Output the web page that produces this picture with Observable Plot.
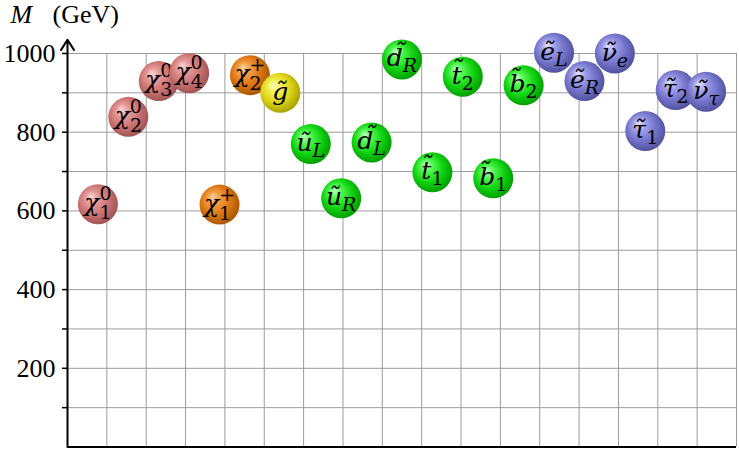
<!DOCTYPE html>
<html>
<head>
<meta charset="utf-8">
<script src="https://cdn.jsdelivr.net/npm/d3@7"></script>
<script src="https://cdn.jsdelivr.net/npm/@observablehq/plot@0.6"></script>
<style>
  html, body { margin: 0; padding: 0; background: #fff; }
  svg { display: block; }
</style>
</head>
<body>
<div id="chart"></div>
<script>
// ---- data ----
const symbols = ["χ","χ","χ","χ","χ","χ","g̃","ũ","ũ","d̃","d̃","t̃","t̃","b̃","b̃","ẽ","ẽ","ν̃","τ̃","τ̃","ν̃"];
const subs    = ["1","2","3","4","1","2","","L","R","L","R","1","2","1","2","L","R","e","1","2","τ"];
const sups    = ["0","0","0","0","+","+","","","","","","","","","","","","","","",""];
const masses  = [617, 839, 930, 950, 616, 945, 900, 770, 632, 774, 985, 698, 941, 683, 919, 1002, 930, 1000, 803, 907, 903];
const groups  = ["neutralino","neutralino","neutralino","neutralino","chargino","chargino","gluino",
                 "squark","squark","squark","squark","squark","squark","squark","squark",
                 "slepton","slepton","slepton","slepton","slepton","slepton"];
const groupNames  = ["neutralino","chargino","gluino","squark","slepton"];
const groupShades = [
  ["#f8d6d6","#e69a9a","#cc7474","#a05252","#6a3434"],
  ["#fcd2a4","#f29c44","#dc7612","#a85600","#703800"],
  ["#fdfdbc","#f3ef56","#ddd518","#a8a000","#6c6800"],
  ["#c4ffc4","#50f650","#12d412","#009c00","#005e00"],
  ["#e2e2fc","#a0a0ea","#7474cc","#50509c","#30306a"]
];
const yTicks  = [100,200,300,400,500,600,700,800,900,1000];
const yLabels = [200,400,600,800,1000];
const slots = 22;          // particle slots across the frame
const gridColumns = 17;    // vertical grid cells
const axisTop = 1035;      // end of the arrowed y axis
const yTitleItalic = "M";
const yTitleRest = "(GeV)";

const particles = symbols.map((s, k) => ({
  i: k + 1, sym: s, sub: subs[k], sup: sups[k], m: masses[k], group: groups[k]
}));
const gridX = d3.range(1, gridColumns + 1).map(k => k * slots / gridColumns);

const SERIF = "Liberation Serif";
const MATH = "DejaVu Serif";

function scripts(p) {
  return function(index, scales, values, dimensions, context, next) {
    const g = next(index, scales, values, dimensions, context);
    d3.select(g).selectAll("text").each(function() {
      const t = d3.select(this);
      const isDigit = /^[0-9+]$/.test(p.sub);
      if (p.sup) {
        t.append("tspan").attr("font-size", 19).attr("font-style", "normal")
          .attr("dy", -11).text(p.sup);
        t.append("tspan").attr("font-size", 19).attr("font-style", "normal")
          .attr("dx", p.sup === "+" ? -16 : -12).attr("dy", 19).text(p.sub);
      } else if (p.sub) {
        t.append("tspan").attr("font-size", 19)
          .attr("font-style", isDigit ? "normal" : "italic")
          .attr("dy", 6).text(p.sub);
      }
    });
    return g;
  };
}

const ballMarks = particles.flatMap(p => [
  Plot.dot([p], {x: "i", y: "m", r: 20, fill: `url(#ball-${p.group})`, stroke: "none"}),
  Plot.text([p], {
    x: "i", y: "m", text: "sym", fontSize: 25, fontStyle: "italic", fontFamily: MATH,
    fill: "black", textAnchor: "middle", lineAnchor: "middle", dy: -1,
    render: scripts(p)
  })
]);

const chart = Plot.plot({
  width: 739,
  height: 450,
  marginLeft: 67,
  marginRight: 3,
  marginTop: 53,
  marginBottom: 3.5,
  x: {domain: [0, slots], axis: null},
  y: {domain: [0, 1000], axis: null},
  marks: [
    Plot.gridY(yTicks, {stroke: "#9c9c9c", strokeOpacity: 1, strokeWidth: 1}),
    Plot.gridX(gridX, {stroke: "#9c9c9c", strokeOpacity: 1, strokeWidth: 1}),
    Plot.axisY(yTicks, {
      tickSize: 5, tickPadding: 7, fontSize: 26, fontFamily: SERIF, strokeWidth: 1.5,
      tickFormat: d => yLabels.includes(d) ? String(d) : "", label: null
    }),
    Plot.ruleY([0], {stroke: "black", strokeWidth: 2.2}),
    Plot.arrow([0], {x1: 0, y1: 0, x2: 0, y2: axisTop, stroke: "black", strokeWidth: 2,
      headLength: 9, headAngle: 65}),
    Plot.text([yTitleItalic], {frameAnchor: "top-left", text: d => d, dx: -57, dy: -39,
      textAnchor: "start", lineAnchor: "middle", fontSize: 26, fontStyle: "italic", fontFamily: SERIF}),
    Plot.text([yTitleRest], {frameAnchor: "top-left", text: d => d, dx: -15, dy: -39,
      textAnchor: "start", lineAnchor: "middle", fontSize: 26, fontFamily: SERIF}),
    ...ballMarks
  ]
});

// radial "ball" shading for each group
const defs = d3.select(chart).insert("defs", ":first-child");
groupNames.forEach((name, gi) => {
  const grad = defs.append("radialGradient").attr("id", `ball-${name}`)
    .attr("cx", 0.5).attr("cy", 0.5).attr("r", 0.8).attr("fx", 0.32).attr("fy", 0.3);
  const offs = [0, 0.2, 0.45, 0.72, 1];
  groupShades[gi].forEach((c, k) => grad.append("stop").attr("offset", offs[k]).attr("stop-color", c));
});

document.getElementById("chart").append(chart);
</script>
</body>
</html>
